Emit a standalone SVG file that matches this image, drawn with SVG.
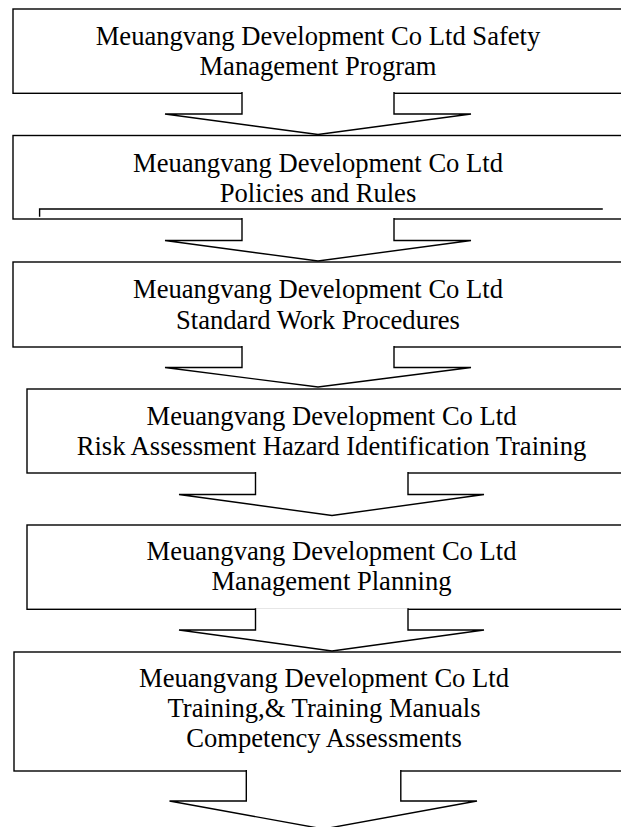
<svg xmlns="http://www.w3.org/2000/svg" width="621" height="827" viewBox="0 0 621 827">
<style>
.box{fill:#fff;stroke:#000;stroke-width:1.4}
.arr{fill:#fff;stroke:#000;stroke-width:1.4;stroke-linejoin:miter}
.ln{fill:none;stroke:#000;stroke-width:1.4}
text{font-family:"Liberation Serif","Times New Roman",serif;font-size:26.6px;fill:#000;text-anchor:middle}
</style>
<rect width="621" height="827" fill="#fff"/>
<g id="node1">
<rect class="box" x="13" y="9" width="610" height="84.3"/>
<text x="318" y="45">Meuangvang Development Co Ltd Safety</text>
<text x="318" y="75">Management Program</text>
</g>
<g id="node2">
<rect class="box" x="13" y="135.5" width="610" height="83.5"/>
<text x="318" y="172">Meuangvang Development Co Ltd</text>
<text x="318" y="202">Policies and Rules</text>
<path class="ln" d="M39.6 216.7 V209 H602.8"/>
</g>
<g id="node3">
<rect class="box" x="13" y="262" width="610" height="85"/>
<text x="318" y="298">Meuangvang Development Co Ltd</text>
<text x="318" y="328.5">Standard Work Procedures</text>
</g>
<g id="node4">
<rect class="box" x="27" y="389" width="610" height="84"/>
<text x="331.5" y="424.5">Meuangvang Development Co Ltd</text>
<text x="331.5" y="455">Risk Assessment Hazard Identification Training</text>
</g>
<g id="node5">
<rect class="box" x="27" y="525" width="610" height="84.3"/>
<text x="331.5" y="560">Meuangvang Development Co Ltd</text>
<text x="331.5" y="590">Management Planning</text>
</g>
<g id="node6">
<rect class="box" x="14" y="652" width="620" height="119"/>
<text x="324" y="687">Meuangvang Development Co Ltd</text>
<text x="324" y="717">Training,&amp; Training Manuals</text>
<text x="324" y="747">Competency Assessments</text>
</g>
<g id="connectors">
<path class="arr" d="M242 92 V114 H165 L318 134.5 L471 114 H394 V92"/>
<path class="arr" d="M242 218 V240.5 H165 L318 261 L471 240.5 H394 V218"/>
<path class="arr" d="M242 346 V367.5 H165 L318 387 L471 367.5 H394 V346"/>
<path class="arr" d="M255.5 472 V494.5 H179 L332 515.5 L484 494.5 H408 V472"/>
<path class="arr" d="M255.5 608.3 V630 H179 L332 651 L484 630 H408 V608.3"/>
<path class="arr" d="M246.3 770 V801 H169.5 L323.5 829 L477 801 H400.8 V770"/>
</g>
</svg>
